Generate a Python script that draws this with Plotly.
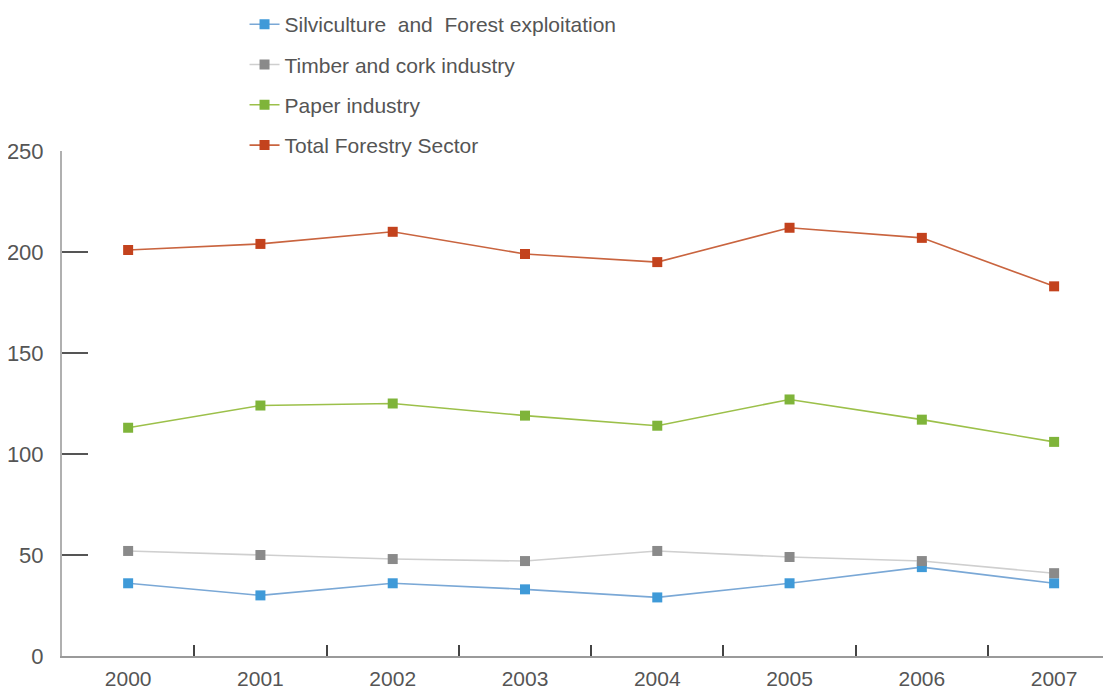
import plotly.graph_objects as go

years = ["2000", "2001", "2002", "2003", "2004", "2005", "2006", "2007"]
silviculture = [36, 30, 36, 33, 29, 36, 44, 36]
timber = [52, 50, 48, 47, 52, 49, 47, 41]
paper = [113, 124, 125, 119, 114, 127, 117, 106]
total = [201, 204, 210, 199, 195, 212, 207, 183]

series = [
    ("Silviculture\u00a0 and\u00a0 Forest exploitation", silviculture, "#7aa8d6", "#3f9ad8"),
    ("Timber and cork industry", timber, "#cfcfcf", "#8a8a8a"),
    ("Paper industry", paper, "#9cc04a", "#7fb43a"),
    ("Total Forestry Sector", total, "#c9643f", "#c3421d"),
]

fig = go.Figure()
for i, (name, vals, lc, mc) in enumerate(series):
    fig.add_trace(go.Scatter(
        x=years, y=vals, name=name, mode="lines+markers",
        line=dict(color=lc, width=1.6),
        marker=dict(symbol="square", size=10, color=mc),
        legendgroup=f"g{i}",
    ))

fig.update_layout(
    width=1103, height=682,
    margin=dict(l=54, r=0, t=143, b=34, autoexpand=False),
    paper_bgcolor="white", plot_bgcolor="white",
    font=dict(family="Liberation Sans, Arial, sans-serif", size=20, color="#555555"),
    showlegend=True,
    legend=dict(
        x=0.174, y=1.291, xanchor="left", yanchor="top",
        font=dict(size=21, color="#555555"),
        tracegroupgap=10, bgcolor="rgba(0,0,0,0)",
    ),
    xaxis=dict(
        type="category", range=[-0.5, 7.43],
        showgrid=False, zeroline=False,
        showline=True, linecolor="#9a9a9a", linewidth=2,
        ticks="inside", ticklen=11, tickwidth=2, tickcolor="#444444",
        tickson="boundaries", ticklabelstandoff=3,
        tickfont=dict(size=21, color="#555555"),
    ),
    yaxis=dict(
        range=[0, 250], tickvals=[0, 50, 100, 150, 200, 250],
        showgrid=False, zeroline=False,
        showline=True, linecolor="#b0b0b0", linewidth=2,
        ticks="inside", ticklen=26, tickwidth=2, tickcolor="#555555",
        ticklabelstandoff=12,
        tickfont=dict(size=22, color="#555555"),
    ),
)

fig.write_html("out.html")
